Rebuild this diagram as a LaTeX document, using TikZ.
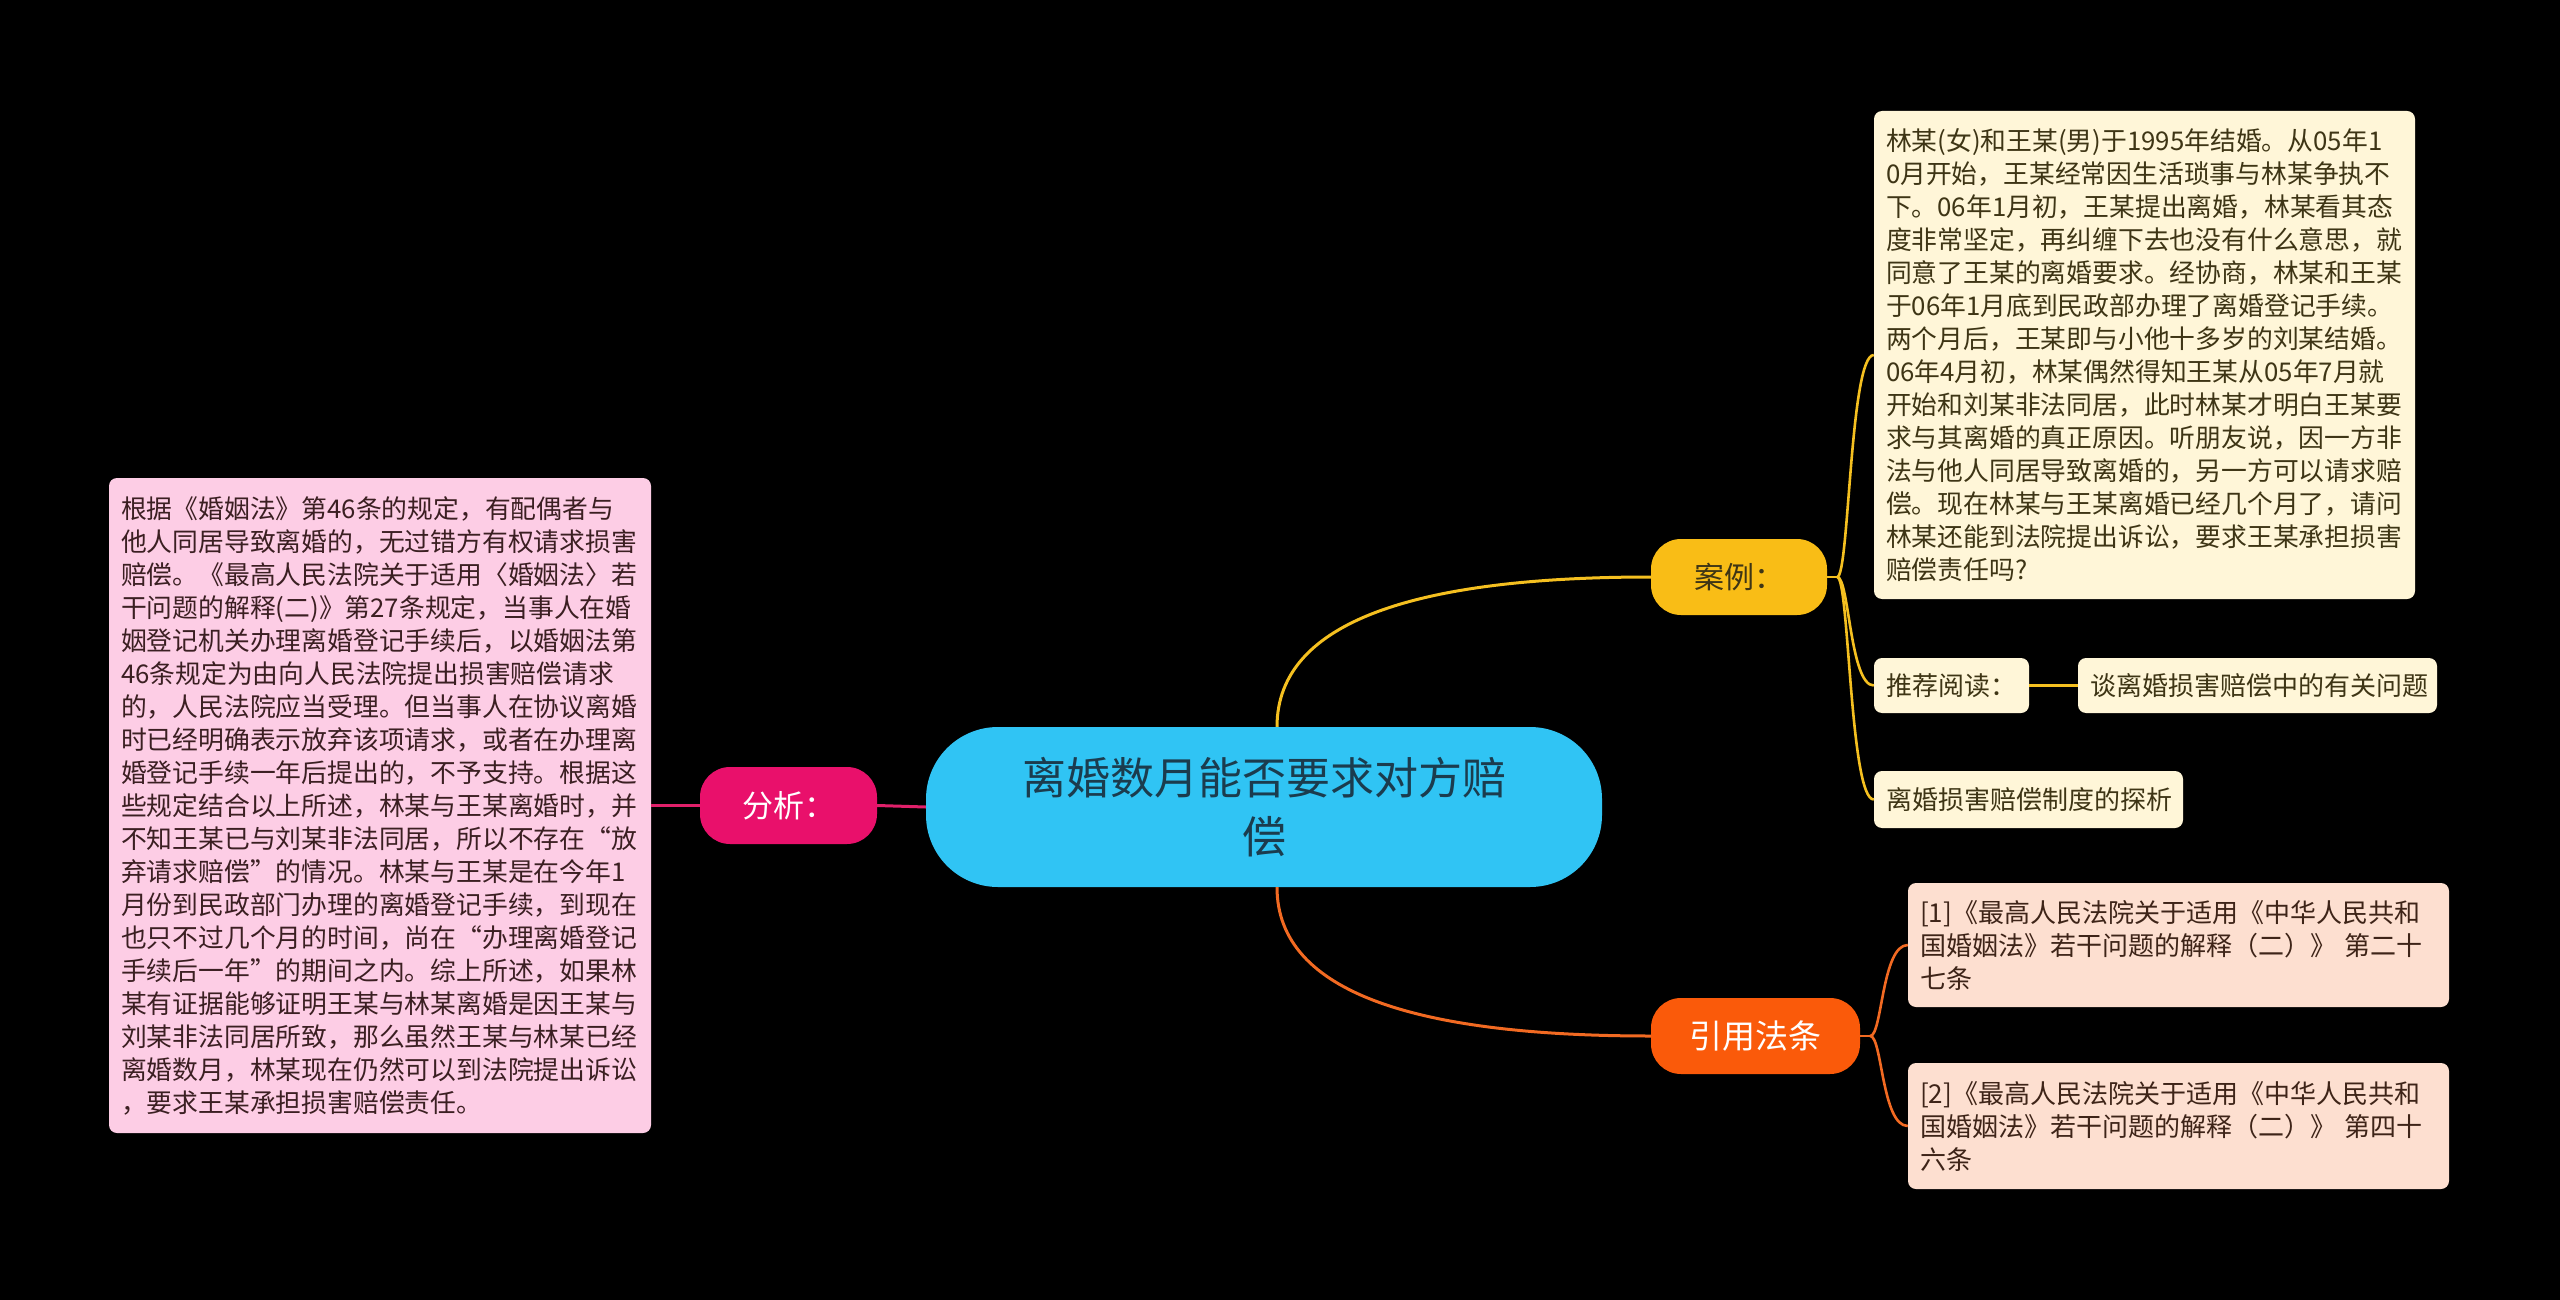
\documentclass[tikz,border=0pt]{standalone}
\usepackage{fontspec}
\setmainfont{Noto Sans CJK SC}
\definecolor{bgc}{HTML}{000000}
\definecolor{cyanc}{HTML}{30C4F4}
\definecolor{centxt}{HTML}{1B3C4E}
\definecolor{casec}{HTML}{F9BD16}
\definecolor{lawc}{HTML}{FA5A0A}
\definecolor{anac}{HTML}{E9106B}
\definecolor{pinkbox}{HTML}{FDCDE5}
\definecolor{creambox}{HTML}{FFF6D8}
\definecolor{peachbox}{HTML}{FDDFD0}
\definecolor{pinktxt}{HTML}{3B1F22}
\definecolor{creamtxt}{HTML}{3E3515}
\definecolor{peachtxt}{HTML}{3E2418}
\definecolor{ylline}{HTML}{F5C020}
\definecolor{orline}{HTML}{F26A22}
\definecolor{pkline}{HTML}{E0206A}
\begin{document}
\begin{tikzpicture}[x=1pt,y=-1pt,
  txtbox/.style={rounded corners=8pt, inner xsep=12pt, inner ysep=0pt, align=left},
  topic/.style={rounded corners=30pt, inner sep=0pt, align=center},
  yl/.style={draw=ylline, line width=2.6pt},
  orl/.style={draw=orline, line width=2.6pt},
  pkl/.style={draw=pkline, line width=3pt}]
\fill[bgc] (0,0) rectangle (2560,1300);
\useasboundingbox (0,0) rectangle (2560,1300);

% central topic
\node[fill=cyanc, rounded corners=72pt, minimum width=676pt, minimum height=160pt, inner sep=0pt, align=center,
  text=centxt, font=\fontsize{44}{59}\selectfont] (C) at (1264,807) {离婚数月能否要求对方赔\\偿};

% main topics
\node[topic, fill=casec, minimum width=176pt, minimum height=76pt, text=creamtxt, font=\fontsize{30}{34}\selectfont] (case) at (1739,577) {案例：};
\node[topic, fill=lawc, minimum width=209pt, minimum height=76pt, text=white, font=\fontsize{33}{36}\selectfont] (law) at (1755.5,1036) {引用法条};
\node[topic, fill=anac, minimum width=177pt, minimum height=77pt, text=white, font=\fontsize{31}{34}\selectfont] (ana) at (788.5,805.5) {分析：};

% left text
\node[txtbox, fill=pinkbox, text=pinktxt, minimum width=542pt, minimum height=655pt, text width=518pt,
  font=\fontsize{25.8}{33}\selectfont] (anatxt) at (380,805.5) {根据《婚姻法》第46条的规定，有配偶者与\\
他人同居导致离婚的，无过错方有权请求损害\\
赔偿。《最高人民法院关于适用〈婚姻法〉若\\
干问题的解释(二)》第27条规定，当事人在婚\\
姻登记机关办理离婚登记手续后，以婚姻法第\\
46条规定为由向人民法院提出损害赔偿请求\\
的，人民法院应当受理。但当事人在协议离婚\\
时已经明确表示放弃该项请求，或者在办理离\\
婚登记手续一年后提出的，不予支持。根据这\\
些规定结合以上所述，林某与王某离婚时，并\\
不知王某已与刘某非法同居，所以不存在“放\\
弃请求赔偿”的情况。林某与王某是在今年1\\
月份到民政部门办理的离婚登记手续，到现在\\
也只不过几个月的时间，尚在“办理离婚登记\\
手续后一年”的期间之内。综上所述，如果林\\
某有证据能够证明王某与林某离婚是因王某与\\
刘某非法同居所致，那么虽然王某与林某已经\\
离婚数月，林某现在仍然可以到法院提出诉讼\\
，要求王某承担损害赔偿责任。};

% case text
\node[txtbox, fill=creambox, text=creamtxt, minimum width=541pt, minimum height=488pt, text width=517pt,
  font=\fontsize{25.8}{33}\selectfont] (casetxt) at (2144.5,355) {林某(女)和王某(男)于1995年结婚。从05年1\\
0月开始，王某经常因生活琐事与林某争执不\\
下。06年1月初，王某提出离婚，林某看其态\\
度非常坚定，再纠缠下去也没有什么意思，就\\
同意了王某的离婚要求。经协商，林某和王某\\
于06年1月底到民政部办理了离婚登记手续。\\
两个月后，王某即与小他十多岁的刘某结婚。\\
06年4月初，林某偶然得知王某从05年7月就\\
开始和刘某非法同居，此时林某才明白王某要\\
求与其离婚的真正原因。听朋友说，因一方非\\
法与他人同居导致离婚的，另一方可以请求赔\\
偿。现在林某与王某离婚已经几个月了，请问\\
林某还能到法院提出诉讼，要求王某承担损害\\
赔偿责任吗?};

\node[txtbox, fill=creambox, text=creamtxt, minimum width=155pt, minimum height=55pt, text width=131pt,
  font=\fontsize{26}{30}\selectfont] (rec) at (1951.5,685.5) {推荐阅读：};
\node[txtbox, fill=creambox, text=creamtxt, minimum width=359pt, minimum height=55pt, text width=335pt,
  font=\fontsize{26}{30}\selectfont] (recart) at (2257.5,685.5) {谈离婚损害赔偿中的有关问题};
\node[txtbox, fill=creambox, text=creamtxt, minimum width=309pt, minimum height=57pt, text width=285pt,
  font=\fontsize{26}{30}\selectfont] (art2) at (2028.5,799.5) {离婚损害赔偿制度的探析};

% citations
\node[txtbox, fill=peachbox, text=peachtxt, minimum width=541pt, minimum height=124pt, text width=517pt,
  font=\fontsize{26}{33}\selectfont] (cit1) at (2178.5,945) {[1]《最高人民法院关于适用《中华人民共和\\
国婚姻法》若干问题的解释（二）》 第二十\\
七条};
\node[txtbox, fill=peachbox, text=peachtxt, minimum width=541pt, minimum height=126pt, text width=517pt,
  font=\fontsize{26}{33}\selectfont] (cit2) at (2178.5,1126) {[2]《最高人民法院关于适用《中华人民共和\\
国婚姻法》若干问题的解释（二）》 第四十\\
六条};

% connectors
\draw[yl, line width=3pt] ([xshift=13pt]C.north) .. controls +(0,-107) and +(-231,0) .. (case.west);
\draw[orl, line width=3pt] ([xshift=13pt]C.south) .. controls +(0,107) and +(-231,0) .. (law.west);
\draw[pkl] (C.west) -- (ana.east);
\draw[pkl] (ana.west) -- (anatxt.east);

\coordinate (yj) at ([xshift=10pt]case.east);
\draw[yl] (case.east) -- (yj);
\draw[yl] (yj) .. controls +(12,0) and +(-24,0) .. (casetxt.west);
\draw[yl] (yj) .. controls +(12,0) and +(-24,0) .. (rec.west);
\draw[yl] (yj) .. controls +(12,0) and +(-24,0) .. (art2.west);
\draw[yl] (rec.east) -- (recart.west);

\coordinate (oj) at ([xshift=10pt]law.east);
\draw[orl] (law.east) -- (oj);
\draw[orl] (oj) .. controls +(12,0) and +(-26,0) .. (cit1.west);
\draw[orl] (oj) .. controls +(12,0) and +(-26,0) .. (cit2.west);
\end{tikzpicture}
\end{document}
